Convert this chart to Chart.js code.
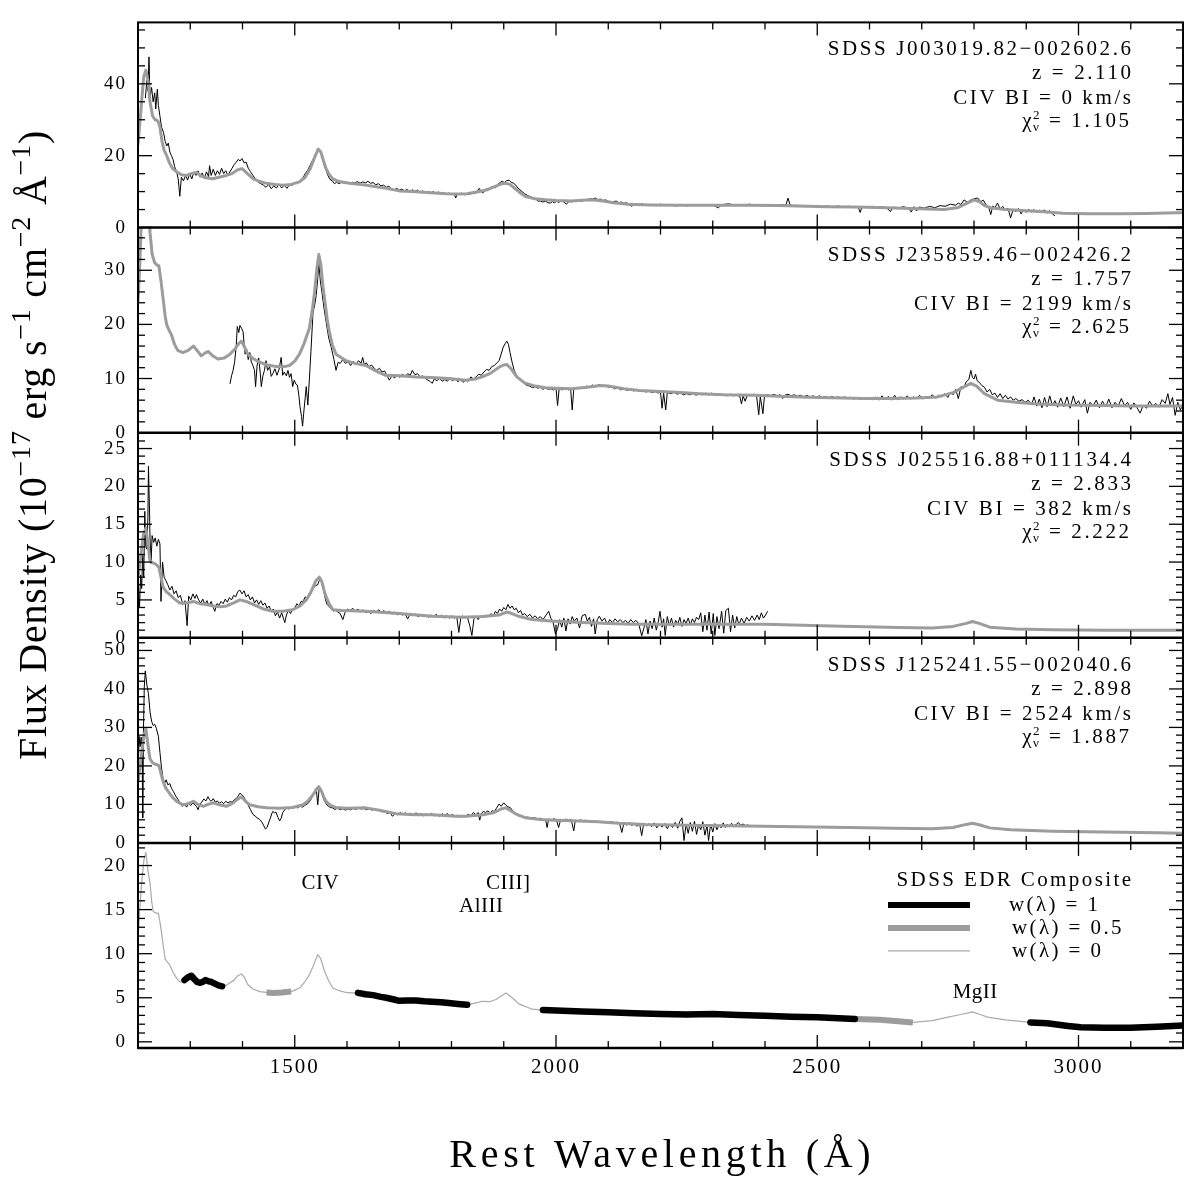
<!DOCTYPE html>
<html>
<head>
<meta charset="utf-8">
<script src="https://cdn.jsdelivr.net/npm/chart.js@4.4.1/dist/chart.umd.min.js"></script>
<style>
  html, body { margin: 0; padding: 0; background: #fff; }
  canvas { display: block; }
</style>
</head>
<body>
<canvas id="spectra" width="1184" height="1177"></canvas>
<script>
// Rest wavelength (A) / flux density (1e-17 erg/s/cm2/A) pairs

// SDSS J003019.82-002602.6
const obs1 = [[1214,36],[1217,41],[1219,38],[1221,47.5],[1223,36],[1226,39],[1229,35],[1232,37.5],[1234,33],[1237,38.5],[1239,34],[1242,31],[1245,28],[1249,26.4],[1252,24],[1255,22.7],[1258,23.5],[1261,21],[1264,20],[1267,19],[1270,17],[1274,15.5],[1277,13.5],[1280,8.7],[1283,14],[1287,13],[1291,14.5],[1295,13.2],[1299,15],[1303,13.5],[1307,15.5],[1311,14.5],[1315,15.8],[1319,14],[1323,15.2],[1327,13.6],[1331,15.5],[1335,14.2],[1337,17.2],[1340,14.5],[1344,16.2],[1348,14.5],[1352,15.8],[1356,14.8],[1360,16.5],[1364,15],[1368,15.8],[1372,14.6],[1376,15.5],[1380,16.5],[1384,17.5],[1388,18.2],[1392,19],[1395,18.5],[1399,19.2],[1403,18],[1407,18.2],[1411,16.5],[1415,15.6],[1420,14.5],[1425,13.5],[1430,12.6],[1435,12.2],[1440,11.8],[1445,11.2],[1450,12],[1455,10.8],[1460,11.6],[1465,11],[1470,12],[1475,11],[1480,11.8],[1485,10.9],[1490,11.9],[1496,11.8],[1500,12.5],[1505,12.2],[1510,13.2],[1515,13.6],[1520,15],[1525,16],[1530,17.5],[1535,19],[1540,20.5],[1545,22],[1549,21.5],[1553,19],[1557,17],[1561,15.5],[1565,14],[1569,13.2],[1572,13],[1576,12.2],[1580,12.6],[1585,12.2],[1590,12.7],[1595,12.3],[1600,12.5],[1605,12.2],[1610,12.6],[1615,12.4],[1620,12.8],[1625,12.3],[1630,12.7],[1636,12.4],[1640,12.9],[1645,12.3],[1650,12.5],[1655,11.9],[1660,12.2],[1665,11.6],[1670,11.8],[1675,11.2],[1680,11.5],[1685,10.8],[1690,10.4],[1695,10.9],[1700,10.4],[1705,10.7],[1710,10.2],[1715,10.6],[1720,10],[1725,10.5],[1730,10.1],[1735,10.4],[1740,9.8],[1745,10.2],[1750,9.7],[1755,10.1],[1760,9.6],[1765,10],[1770,9.5],[1775,9.9],[1780,9.4],[1785,9.7],[1790,9.3],[1795,9.6],[1800,9.2],[1805,9.5],[1808,8.2],[1811,9.4],[1815,9.3],[1820,9.6],[1825,9.1],[1830,9.5],[1835,9.2],[1840,9.7],[1845,9.4],[1850,10.3],[1853,10.9],[1857,10],[1860,9.6],[1864,10.5],[1868,10.8],[1872,10.5],[1876,11.3],[1880,11.5],[1884,11],[1888,12],[1892,12.4],[1897,12.9],[1901,12.5],[1905,13],[1910,13.2],[1914,12.6],[1918,12.4],[1923,11.8],[1927,11],[1931,10.5],[1935,10],[1940,9.4],[1945,9],[1950,8.6],[1954,8.4],[1958,8],[1962,7.8],[1966,7.3],[1970,7.4],[1975,7.1],[1980,7.3],[1985,6.9],[1989,6.8],[1993,7.2],[1997,6.9],[2001,7.3],[2005,7],[2010,7.4],[2015,7.1],[2020,6.5],[2025,7.3],[2030,7.1],[2035,7.5],[2040,7.2],[2045,7.5],[2050,7.3],[2055,7.7],[2060,7.8],[2065,8],[2070,7.9],[2075,8.2],[2080,7.8],[2085,7.9],[2090,7.5],[2095,7.7],[2100,7.3],[2110,7.1],[2115,7.4],[2120,6.9],[2125,7.1],[2130,6.7],[2135,6.9],[2140,6.4],[2145,5.9],[2150,6.5],[2160,6.3],[2165,6.6],[2170,6.2],[2180,6.4],[2190,6.1],[2200,6.5],[2210,6.1],[2220,6.3],[2230,6],[2240,6.4],[2250,6],[2260,6.3],[2270,6.1],[2280,6.4],[2290,6.2],[2300,6.3],[2306,5.8],[2311,5.5],[2316,6.2],[2320,6.4],[2330,6.6],[2340,6.3],[2350,6.4],[2360,6.2],[2370,6.5],[2380,6.2],[2390,6.3],[2400,6.1],[2410,6.3],[2420,6],[2430,6.4],[2440,6.2],[2444,8.2],[2448,6.3],[2455,6.1],[2460,6.2],[2470,5.9],[2480,6.1],[2490,5.8],[2500,6.1],[2510,5.8],[2520,6],[2530,5.7],[2540,6],[2550,5.7],[2560,5.9],[2570,5.6],[2578,5.9],[2582,4.2],[2586,5.8],[2595,5.6],[2605,5.9],[2615,5.5],[2625,5.8],[2635,5.2],[2640,4.4],[2645,5.7],[2655,5.4],[2665,5.8],[2675,5.3],[2680,4.3],[2685,5.8],[2690,4.6],[2695,5.7],[2705,5.4],[2715,5.9],[2725,5.5],[2735,6.1],[2745,5.9],[2755,6.5],[2765,6.2],[2770,6.8],[2775,6.4],[2781,7.7],[2787,7],[2793,7.6],[2800,8],[2807,8.2],[2813,7.2],[2818,7.6],[2823,6.3],[2828,5.8],[2832,3.6],[2836,6],[2840,5.5],[2845,6.8],[2850,5.2],[2855,5.9],[2860,4.8],[2865,5.4],[2870,2.7],[2875,5],[2880,4.4],[2885,5.3],[2890,3.8],[2895,4.9],[2900,4.2],[2905,5.1],[2910,4.3],[2915,5],[2920,4.2],[2925,4.8],[2930,4.4],[2935,4.9],[2940,4],[2945,4.7],[2950,3.8],[2955,3.2]];
const model1 = [[1200,23],[1204,30],[1208,37],[1211,42],[1215,43.8],[1219,41],[1223,35],[1228,31],[1233,30],[1238,29.7],[1242,28],[1246,24],[1250,21.5],[1255,20],[1260,18],[1266,16.5],[1274,15.5],[1283,14.7],[1293,14.5],[1302,15],[1312,15.3],[1322,14.3],[1333,13.8],[1343,13.6],[1355,14],[1369,14.5],[1380,15],[1390,16],[1399,16.4],[1408,15.2],[1420,13.6],[1433,12.8],[1446,12.3],[1462,12],[1477,11.8],[1493,12],[1509,12.7],[1520,14],[1530,16.5],[1538,19.5],[1545,21.8],[1550,21],[1555,18.6],[1560,16.4],[1566,14.8],[1572,13.6],[1585,12.8],[1605,12.3],[1636,11.8],[1668,11.1],[1700,10.2],[1725,10],[1760,9.7],[1790,9.4],[1808,9.3],[1830,9.4],[1853,10],[1870,10.6],[1885,11.5],[1897,12.2],[1904,12.3],[1912,12],[1922,10.8],[1932,9.6],[1942,8.6],[1960,8],[1980,7.7],[2000,7.5],[2030,7.4],[2050,7.6],[2069,7.7],[2090,7.4],[2110,6.9],[2139,6.5],[2180,6.3],[2234,6.2],[2300,6.2],[2362,6.2],[2425,6.1],[2463,6],[2520,5.8],[2570,5.7],[2616,5.6],[2680,5.3],[2743,5],[2770,5.6],[2790,7],[2800,7.7],[2810,7.2],[2820,6.1],[2832,5.5],[2860,5],[2900,4.7],[2934,4.4],[2970,4],[3017,3.8],[3080,3.8],[3130,3.9],[3189,4.1],[3200,4.1]];

// SDSS J235859.46-002426.2
const obs2 = [[1376,9],[1379,10.5],[1382,11.5],[1385,13.1],[1388,16],[1390,19.6],[1393,18.5],[1395,19.8],[1398,19.3],[1401,18.7],[1403,16.5],[1405,14.5],[1408,15.4],[1411,13.5],[1414,14.8],[1417,13],[1420,12.4],[1423,11.5],[1425,8.5],[1428,12.5],[1431,13.8],[1434,11],[1436,8.5],[1439,10.5],[1442,11.5],[1445,13.3],[1448,11.5],[1452,12.2],[1455,10.4],[1458,10.9],[1462,11.8],[1466,10.6],[1470,11.7],[1474,13.9],[1477,10.6],[1480,11.2],[1484,10.5],[1487,11.5],[1490,10.2],[1493,10.9],[1496,8.5],[1499,9.7],[1502,9],[1505,8.8],[1508,6.8],[1510,4.8],[1513,3],[1515,1.2],[1517,3.5],[1520,6.5],[1522,8.5],[1525,5.1],[1528,9.9],[1531,15],[1535,22.3],[1538,23.5],[1541,25.3],[1544,28.5],[1546,31.4],[1549,28],[1552,26],[1556,23],[1560,20.5],[1565,17.5],[1570,15.7],[1575,13.5],[1579,11.5],[1583,13],[1587,12.8],[1592,13.5],[1597,12.8],[1602,13.1],[1607,12.4],[1612,13.2],[1617,12.5],[1622,13.3],[1627,12.8],[1630,13.9],[1633,12.6],[1637,12.9],[1642,12.2],[1647,12.5],[1652,11.9],[1657,11.5],[1662,11.9],[1667,11.2],[1672,11.4],[1676,10.6],[1681,9.7],[1686,10.5],[1691,10.1],[1696,10.7],[1701,10.2],[1706,10.8],[1711,10.4],[1716,10.9],[1721,10.6],[1725,11.5],[1730,10.7],[1735,10.9],[1740,10.3],[1745,10.5],[1750,10],[1755,9.7],[1760,9.4],[1763,9.1],[1767,9.9],[1772,9.6],[1777,10],[1782,9.5],[1787,9.8],[1792,9.5],[1797,10],[1802,9.6],[1807,9.9],[1812,9.4],[1817,9.8],[1822,9.3],[1827,9.7],[1832,9.5],[1837,10.3],[1842,9.9],[1847,10.3],[1852,10.8],[1857,10.6],[1862,11.2],[1867,11.7],[1872,11.5],[1877,12.2],[1882,12.4],[1887,12.9],[1891,13.3],[1895,14.5],[1899,15.8],[1903,16.5],[1906,16.9],[1909,16.3],[1912,14.8],[1916,13],[1920,11.5],[1925,10.5],[1930,9.8],[1935,9.5],[1940,9],[1945,8.7],[1950,8.6],[1955,8.3],[1960,8.5],[1965,8.2],[1970,8.4],[1975,8],[1980,8.3],[1985,8],[1990,8.1],[1995,7.9],[2000,8.2],[2003,5],[2006,8.1],[2012,7.9],[2018,8.3],[2024,7.9],[2028,8.1],[2031,4.2],[2034,8],[2040,8.2],[2046,8.4],[2052,8.2],[2058,8.6],[2064,8.4],[2070,8.8],[2076,8.5],[2082,8.9],[2088,8.6],[2094,8.7],[2100,8.4],[2106,8.5],[2112,8.1],[2118,8.3],[2124,7.9],[2130,8.1],[2136,7.8],[2142,8],[2148,7.7],[2154,7.9],[2160,7.6],[2166,7.8],[2172,7.5],[2178,7.7],[2184,7.4],[2190,7.6],[2196,7.3],[2200,7.5],[2203,4.5],[2206,7.3],[2210,4.2],[2213,7.4],[2220,7.2],[2226,7.5],[2232,7.1],[2238,7.3],[2244,7],[2250,7.2],[2256,7],[2262,7.3],[2268,6.9],[2274,7.2],[2280,7],[2286,7.3],[2292,7],[2298,7.3],[2304,6.9],[2310,7.2],[2316,6.9],[2322,7.1],[2328,6.8],[2334,7.1],[2340,6.8],[2346,7],[2352,6.6],[2355,5.3],[2358,6.8],[2362,5.8],[2366,6.9],[2372,6.9],[2378,7.1],[2384,6.7],[2388,3.3],[2391,6.7],[2396,3.5],[2399,6.8],[2405,7],[2411,6.8],[2417,7.1],[2423,6.8],[2429,7],[2434,6.3],[2438,6.9],[2444,7.1],[2450,6.8],[2456,7],[2462,6.7],[2468,6.9],[2474,6.6],[2480,6.9],[2486,6.6],[2492,6.8],[2498,6.5],[2504,6.8],[2510,6.5],[2516,6.7],[2522,6.4],[2528,6.7],[2534,6.4],[2540,6.6],[2546,6.3],[2552,6.6],[2558,6.3],[2564,6.5],[2570,6.2],[2576,6.5],[2582,6.2],[2588,6.4],[2594,6.3],[2600,6.5],[2606,6.1],[2612,6.6],[2618,6],[2624,6.8],[2630,6.1],[2636,6.7],[2642,6],[2648,6.9],[2654,6.1],[2660,6.6],[2666,6.2],[2672,6.8],[2678,6.2],[2684,6.6],[2690,6.3],[2696,6.9],[2702,6.2],[2708,6.7],[2714,6.3],[2720,7],[2726,6.4],[2732,6.9],[2738,6.6],[2744,7.2],[2750,6.5],[2755,7.5],[2760,7],[2765,8],[2770,6.3],[2775,8.5],[2780,8.2],[2785,9.4],[2790,9.8],[2794,11.5],[2797,10.2],[2800,9.9],[2803,10.8],[2806,9.6],[2810,9.3],[2815,8.7],[2820,8.4],[2825,7.5],[2830,8],[2835,7],[2840,7.3],[2845,6.5],[2850,7.2],[2855,6.3],[2860,6.9],[2865,6.2],[2870,6.6],[2875,6],[2880,6.3],[2886,5.8],[2892,6.1],[2898,5.6],[2904,6],[2910,5.1],[2915,6.6],[2920,4.9],[2925,6.2],[2930,4.6],[2935,6.5],[2940,4.8],[2945,6.8],[2950,5],[2955,5.9],[2960,4.7],[2966,6.4],[2972,4.8],[2978,6.6],[2984,4.5],[2990,6.8],[2995,5.2],[3000,5.9],[3005,4.7],[3012,6.1],[3017,3.6],[3022,5.6],[3028,5],[3034,6],[3040,4.6],[3046,5.8],[3052,4.8],[3058,6.2],[3064,4.6],[3070,5.6],[3076,4.9],[3082,6.3],[3088,5],[3094,5.6],[3100,4.3],[3106,5.5],[3112,4.6],[3118,3.6],[3124,5.1],[3130,4.5],[3136,5.8],[3142,4.9],[3148,5.4],[3154,4.7],[3160,6.1],[3166,5.4],[3171,7.2],[3175,5.2],[3180,6.5],[3185,3.2],[3190,5.6],[3195,4.2],[3200,5.3]];
const model2 = [[1200,24.2],[1203,30],[1206,38],[1209,46],[1213,50],[1217,46],[1221,40],[1223,37],[1227,33],[1232,31.4],[1236,31],[1240,30.8],[1244,28],[1248,24.8],[1252,21.5],[1255,19.9],[1260,18.8],[1264,18.1],[1270,16.3],[1276,15.2],[1286,14.8],[1296,15.2],[1306,16],[1313,15.2],[1321,14.2],[1328,14.7],[1334,15],[1343,14.2],[1353,13.6],[1365,13.8],[1376,14.5],[1386,15.5],[1393,16.5],[1398,16.9],[1404,15.8],[1410,14.5],[1420,13.7],[1433,13],[1448,12.5],[1465,12.2],[1480,12.2],[1490,12.4],[1500,13.2],[1509,14.5],[1518,16.5],[1528,19.3],[1534,23],[1538,26],[1542,30],[1546,32.9],[1550,31],[1554,27],[1557,24.8],[1562,21],[1566,18.7],[1572,16.2],[1579,14.5],[1590,13.8],[1598,13.3],[1615,12.8],[1636,12.4],[1655,11.4],[1674,10.6],[1700,10.5],[1732,10.3],[1760,10.2],[1795,10],[1827,9.7],[1845,9.9],[1859,10.3],[1875,11],[1891,12.1],[1900,12.5],[1906,12.6],[1914,11.8],[1925,10.3],[1940,9.2],[1960,8.6],[1980,8.3],[2000,8.2],[2030,8.1],[2060,8.4],[2085,8.7],[2100,8.6],[2130,8.1],[2160,7.8],[2200,7.6],[2240,7.4],[2273,7.2],[2320,7],[2380,6.9],[2440,6.7],[2500,6.5],[2550,6.4],[2590,6.3],[2640,6.3],[2690,6.4],[2730,6.6],[2760,7.4],[2780,8.4],[2794,9.1],[2805,8.6],[2820,7.2],[2845,6],[2880,5.6],[2920,5.3],[2972,5.1],[3050,5],[3100,4.9],[3163,4.9],[3200,4.9]];

// SDSS J025516.88+011134.4
const obs3 = [[1200,8],[1203,4.1],[1205,8.3],[1207,6.5],[1209,10.9],[1211,8],[1213,16.7],[1215,12],[1217,11.7],[1219,16],[1220,22.7],[1222,17],[1223,13.2],[1225,9.8],[1227,13.5],[1230,12.6],[1233,13.2],[1236,12.1],[1239,13],[1242,12.4],[1244,4.8],[1247,10],[1250,8],[1253,7.6],[1257,7],[1261,6.3],[1265,6.8],[1269,5.8],[1273,6.2],[1277,5.3],[1281,5.6],[1286,4.4],[1290,4.9],[1294,1.6],[1297,5.5],[1301,5],[1305,5.8],[1309,5.2],[1312,5.7],[1316,5],[1320,4.6],[1324,5.1],[1328,4.4],[1332,4.9],[1336,4.2],[1340,4.8],[1344,4],[1347,3.5],[1351,4.5],[1355,4.3],[1359,4.8],[1363,4.5],[1367,5.1],[1371,4.7],[1375,5.3],[1379,5],[1383,5.6],[1387,5.4],[1391,6.1],[1395,6.3],[1399,5.8],[1403,6.2],[1407,5.4],[1411,5.7],[1415,5],[1419,5.4],[1423,4.6],[1427,5],[1431,4.4],[1435,4.9],[1439,4.3],[1443,4.6],[1447,3.9],[1451,4.2],[1455,3.5],[1459,3.8],[1463,2.9],[1467,3.4],[1471,2.6],[1475,3.3],[1479,2.4],[1481,2],[1484,3],[1488,3.6],[1492,3.2],[1496,3.8],[1500,3.9],[1504,4.5],[1508,4.2],[1512,4.8],[1516,4.8],[1520,5.4],[1524,5.2],[1528,5.9],[1532,6.1],[1536,6.6],[1540,6.9],[1544,7],[1547,7.6],[1550,7.8],[1553,6.8],[1556,6],[1559,5],[1562,4.4],[1566,4.1],[1570,3.8],[1574,3.5],[1578,3.7],[1582,3.4],[1587,3.2],[1592,2.4],[1596,3.3],[1601,3.8],[1606,3.6],[1611,3.9],[1616,3.5],[1621,3.8],[1626,3.4],[1631,3.7],[1636,3.3],[1641,3.5],[1646,3.2],[1651,3.6],[1656,3.4],[1661,3.7],[1666,3.3],[1671,3.6],[1676,3.2],[1681,3.5],[1686,3.1],[1691,3.4],[1696,3],[1701,3.3],[1706,3],[1711,3.2],[1716,2.5],[1721,3.1],[1726,2.9],[1731,3.1],[1736,2.8],[1741,3],[1746,2.8],[1751,3],[1756,2.7],[1761,3],[1766,2.8],[1771,3.1],[1776,2.7],[1781,3],[1786,2.6],[1791,2.9],[1796,2.6],[1801,2.9],[1806,2.6],[1810,2.8],[1814,0.7],[1818,2.7],[1822,2.9],[1826,2.6],[1830,2.8],[1835,1.6],[1839,0.3],[1843,2.5],[1847,2.8],[1851,2.4],[1856,2.9],[1861,2.7],[1866,3],[1871,2.8],[1876,3.2],[1880,2.9],[1884,3.5],[1888,3.2],[1892,3.8],[1896,3.5],[1900,4],[1904,3.7],[1908,4.4],[1912,3.9],[1916,4.2],[1920,3.7],[1924,3.9],[1928,3.3],[1932,3.6],[1936,3],[1940,3.2],[1945,2.8],[1950,3.1],[1955,2.6],[1960,2.9],[1965,2.5],[1970,2.8],[1975,2.4],[1980,2.9],[1986,3.5],[1990,2.6],[1994,2.2],[1999,0.5],[2003,1.2],[2007,2.4],[2011,1.4],[2015,2.6],[2019,0.9],[2023,2.5],[2027,1.8],[2031,2.8],[2035,2.2],[2040,2.6],[2045,1.3],[2050,2.9],[2056,3.1],[2060,2.2],[2064,2.7],[2068,1.5],[2072,2.5],[2075,0.5],[2079,2.4],[2083,2.85],[2088,2.2],[2093,2.6],[2098,1.8],[2103,2.4],[2108,2],[2113,2.5],[2118,2.1],[2123,2.4],[2128,2],[2133,2.3],[2138,1.9],[2143,2.4],[2148,2],[2153,2.3],[2158,1.9],[2164,0.26],[2168,1.2],[2172,2.4],[2176,0.5],[2180,2.2],[2184,1.2],[2188,2.6],[2192,1],[2196,2.2],[2199,3.5],[2203,1.4],[2206,2.5],[2209,0.3],[2213,2.8],[2217,1.6],[2221,2.6],[2225,1.4],[2229,2.3],[2233,1.8],[2237,2.7],[2241,1.5],[2245,2.4],[2249,1.9],[2253,2.6],[2257,1.7],[2261,2.5],[2265,2],[2269,2.7],[2273,2.4],[2277,3.3],[2281,0.8],[2285,3],[2289,1],[2293,3.4],[2297,0.5],[2301,3.2],[2304,0.3],[2308,2.8],[2312,1.2],[2317,3.5],[2321,0.6],[2325,3.6],[2330,3.9],[2334,0.8],[2338,3],[2342,1.3],[2346,2.8],[2350,1.7],[2355,2.6],[2360,1.9],[2365,2.7],[2370,2.2],[2375,2.9],[2380,2.3],[2385,3],[2389,2.4],[2393,3.3],[2397,2.6],[2401,3],[2405,3.5]];
const model3 = [[1200,8],[1205,10.5],[1210,13.5],[1215,14.5],[1219,12.5],[1223,10.2],[1228,9.9],[1232,9.8],[1236,9.6],[1240,9.3],[1244,8],[1248,6.7],[1254,6.1],[1261,5.7],[1270,5.1],[1280,4.6],[1293,4.6],[1306,4.8],[1318,4.5],[1331,4.4],[1344,4.2],[1357,4.1],[1370,4.2],[1383,4.6],[1395,5],[1407,4.8],[1420,4.4],[1440,3.8],[1458,3.5],[1478,3.5],[1496,3.7],[1510,4.2],[1522,5],[1530,5.9],[1535,6.7],[1541,7.6],[1547,8],[1552,7.4],[1556,6.3],[1560,5.4],[1566,4.5],[1573,3.7],[1590,3.6],[1636,3.5],[1700,3.2],[1763,2.85],[1820,2.7],[1860,2.8],[1891,3],[1905,3.4],[1912,3.3],[1930,2.8],[1954,2.4],[1990,2.2],[2050,2],[2100,1.9],[2145,1.8],[2250,1.8],[2400,1.8],[2527,1.55],[2654,1.35],[2720,1.3],[2760,1.5],[2785,1.9],[2797,2.15],[2810,1.9],[2830,1.4],[2880,1.15],[2950,1.05],[3050,1],[3200,1]];

// SDSS J125241.55-002040.6
const obs4 = [[1200,15.9],[1202,27.7],[1204,25],[1206,27.5],[1208,24],[1209,6.5],[1210,26],[1212,40.5],[1214,44.7],[1217,41],[1220,38.8],[1223,34],[1226,31.6],[1229,30.5],[1232,30.8],[1235,29.8],[1239,27.7],[1242,23.5],[1245,19.5],[1248,16.7],[1251,15.5],[1254,16.4],[1257,15.1],[1261,15.4],[1264,14.2],[1268,13.3],[1272,12.2],[1277,11.2],[1281,10.2],[1285,9.5],[1289,10.1],[1293,9.3],[1297,10.2],[1301,9.7],[1305,10.4],[1309,9.8],[1312,9.5],[1315,8.6],[1318,9.9],[1322,10.6],[1326,11.4],[1330,10.9],[1334,12],[1337,11.2],[1340,10.8],[1344,11.5],[1348,10.6],[1352,10.9],[1356,10.3],[1360,10.7],[1364,10.2],[1368,10.8],[1372,10.4],[1376,10.7],[1380,10.6],[1384,11.2],[1388,11.5],[1392,12.2],[1395,12.9],[1398,12.6],[1402,12.1],[1407,10.8],[1411,9.8],[1415,8.7],[1420,7.4],[1424,7],[1428,6.5],[1433,6.1],[1437,5.4],[1441,4.4],[1444,3.6],[1447,4],[1450,5.2],[1453,6.3],[1456,7.6],[1458,8.2],[1461,7.8],[1464,8],[1468,6.6],[1471,5.7],[1474,6.4],[1477,7.9],[1481,8.6],[1484,9.1],[1488,8.8],[1492,9.2],[1496,9],[1500,9.4],[1505,9.1],[1510,9.5],[1515,9.3],[1520,9.8],[1525,10.2],[1530,11],[1535,12.5],[1539,13.5],[1541,14.2],[1544,9.9],[1547,14.6],[1550,13.8],[1553,12.2],[1557,10.8],[1562,9.8],[1567,9.3],[1572,9.1],[1577,8.7],[1582,9],[1587,8.6],[1592,8.9],[1597,8.5],[1602,8.8],[1607,8.6],[1612,9],[1617,8.7],[1622,9.1],[1627,8.8],[1632,9],[1637,8.6],[1642,8.9],[1647,8.5],[1652,8.8],[1657,8.4],[1662,8.7],[1667,8],[1672,8.2],[1677,7.6],[1682,7.9],[1687,6.9],[1692,7.6],[1697,7.3],[1702,7.9],[1707,7.4],[1712,7.8],[1717,7.3],[1722,7.7],[1727,7.2],[1732,7.8],[1737,7.3],[1742,7.6],[1747,7],[1752,7.5],[1757,7.1],[1762,7.7],[1767,7],[1772,7.4],[1777,6.9],[1782,7.6],[1787,7.2],[1792,7.6],[1797,7],[1802,7.4],[1807,6.8],[1812,7.2],[1817,6.7],[1822,7.1],[1827,6.8],[1832,7.5],[1837,7],[1842,7.9],[1847,7.3],[1851,7.9],[1854,5.9],[1857,7.6],[1861,8.2],[1865,7.9],[1870,8.3],[1874,7.7],[1878,8.4],[1882,8.1],[1886,9],[1891,10.1],[1895,9.5],[1900,10.4],[1904,9.8],[1908,9.4],[1913,9.1],[1918,8.2],[1924,7.5],[1929,6.9],[1935,7],[1940,6.5],[1946,6.7],[1952,6.3],[1958,6.6],[1964,6.2],[1970,6.4],[1976,6],[1980,6.1],[1983,4],[1986,6.2],[1991,5.8],[1996,6.3],[2001,5.9],[2005,4],[2009,6.1],[2014,5.7],[2019,6.2],[2024,5.8],[2029,6.1],[2034,3.1],[2037,5.9],[2042,5.5],[2047,6],[2052,5.6],[2057,5.9],[2062,5.5],[2067,5.8],[2072,5.3],[2077,5.7],[2082,5.3],[2087,5.6],[2092,5.2],[2097,5.5],[2102,5.1],[2107,5.5],[2112,5.1],[2117,5.4],[2122,4.9],[2126,2.7],[2130,5.2],[2135,4.6],[2140,5.3],[2145,4.5],[2150,5.1],[2155,4.3],[2160,5],[2164,1.9],[2168,5.1],[2173,4.4],[2178,5],[2183,4.2],[2188,5.2],[2193,3.9],[2198,4.8],[2203,4.1],[2208,5],[2213,3.7],[2218,4.9],[2223,4],[2228,5.3],[2233,3.8],[2237,5.6],[2241,6.5],[2245,0.6],[2249,4.9],[2253,2.5],[2257,5.3],[2261,3],[2265,5.6],[2269,2.2],[2273,4.8],[2277,3.4],[2281,5.5],[2285,2],[2289,4.6],[2292,0.6],[2296,4.9],[2300,2.8],[2304,5],[2308,3.4],[2312,4.6],[2316,3.9],[2320,5.2],[2324,4],[2328,4.8],[2332,4.3],[2336,5.1],[2340,4.4],[2345,4.8],[2349,5.3],[2353,4.6],[2358,4.9],[2363,4.5],[2368,4.7]];
const model4 = [[1200,15.9],[1204,20],[1207,23.5],[1211,27.5],[1215,29.8],[1219,25.5],[1223,21.8],[1228,20.8],[1232,20.5],[1236,20.3],[1240,20.1],[1244,18],[1248,15.9],[1253,14.3],[1258,13.3],[1266,11.8],[1274,10.8],[1286,9.9],[1296,10.2],[1306,10.8],[1315,10],[1325,9.5],[1334,10],[1344,10.4],[1356,9.9],[1369,9.5],[1380,10.2],[1390,11.3],[1398,12],[1406,10.8],[1414,9.9],[1430,9.4],[1446,9.1],[1470,9],[1496,9.2],[1516,9.9],[1526,11],[1535,12.5],[1541,13.8],[1546,14.6],[1551,13.5],[1556,11.8],[1560,10.8],[1568,9.8],[1578,9.2],[1600,9],[1636,9.1],[1662,8.5],[1694,7.6],[1730,7.3],[1763,7.3],[1808,6.9],[1827,6.9],[1860,7.3],[1880,7.8],[1895,8.8],[1904,9.1],[1912,8.5],[1925,7.4],[1942,6.5],[1970,6.1],[2000,5.9],[2043,5.7],[2080,5.5],[2120,5.1],[2171,4.8],[2250,4.6],[2362,4.4],[2463,4.2],[2560,4],[2650,3.8],[2720,3.7],[2760,4],[2785,4.8],[2797,5.1],[2810,4.7],[2830,3.9],[2870,3.4],[2950,3],[3050,2.8],[3150,2.6],[3200,2.5]];

// SDSS EDR composite and its weight ranges
const composite = [[1200,11.7],[1204,15.5],[1207,18],[1211,20.5],[1215,21.5],[1219,19.5],[1223,18],[1226,16],[1229,14.8],[1234,14.6],[1239,14.6],[1242,13.6],[1245,12.4],[1249,10.6],[1252,9.4],[1257,9],[1261,8.7],[1267,7.9],[1274,7.2],[1280,6.8],[1286,6.8],[1289,7],[1295,7.3],[1302,7.5],[1308,7.1],[1313,6.8],[1318,6.7],[1324,6.8],[1329,7],[1334,6.9],[1340,6.8],[1347,6.6],[1354,6.4],[1361,6.3],[1368,6.4],[1376,6.7],[1384,7],[1391,7.5],[1398,7.7],[1404,7.3],[1410,6.5],[1420,6],[1433,5.7],[1446,5.6],[1460,5.55],[1475,5.6],[1493,5.7],[1501,5.9],[1509,6.1],[1518,6.7],[1528,7.6],[1536,8.7],[1544,9.9],[1550,9.4],[1557,8],[1565,6.9],[1573,6.1],[1585,5.8],[1598,5.6],[1610,5.55],[1621,5.55],[1635,5.4],[1650,5.3],[1665,5.1],[1675,5],[1690,4.8],[1700,4.65],[1715,4.7],[1732,4.7],[1748,4.6],[1763,4.55],[1780,4.5],[1795,4.4],[1812,4.3],[1830,4.2],[1845,4.4],[1859,4.6],[1872,4.55],[1885,4.8],[1895,5.2],[1904,5.55],[1912,5.2],[1920,4.8],[1929,4.3],[1942,4],[1954,3.7],[1975,3.6],[2000,3.55],[2050,3.45],[2100,3.35],[2150,3.25],[2200,3.15],[2250,3.1],[2300,3.15],[2350,3.05],[2400,2.95],[2450,2.85],[2500,2.8],[2572,2.6],[2620,2.5],[2683,2.2],[2720,2.4],[2750,2.8],[2775,3.1],[2797,3.4],[2812,3.1],[2826,2.8],[2860,2.5],[2908,2.2],[2940,2.1],[2980,1.8],[3004,1.65],[3050,1.6],[3099,1.6],[3150,1.7],[3200,1.85]];
const w1Ranges = [[1289,1361],[1621,1830],[1975,2572],[2908,3200]];
const w05Ranges = [[1446,1493],[2572,2683]];

// Labels
const objNames = ['SDSS J003019.82\u2212002602.6', 'SDSS J235859.46\u2212002426.2', 'SDSS J025516.88+011134.4', 'SDSS J125241.55\u2212002040.6'];
const redshifts = ['2.110', '1.757', '2.833', '2.898'];
const civBI = ['0', '2199', '382', '2524'];
const chi2 = ['1.105', '2.625', '2.222', '1.887'];
const lineNames = ['CIV', 'CIII]', 'AlIII', 'MgII'];
const legendLabels = ['w(\u03bb) = 1', 'w(\u03bb) = 0.5', 'w(\u03bb) = 0'];

// Axes
const xTicks = [1500, 2000, 2500, 3000];
const panelIds = ['y1', 'y2', 'y3', 'y4', 'y5'];
const yTicks = [[0, 20, 40], [0, 10, 20, 30], [0, 5, 10, 15, 20, 25], [0, 10, 20, 30, 40, 50], [0, 5, 10, 15, 20]];
const yMin = [0, 0, 0, 0, -0.7];
const yMax = [57.1, 37.9, 27.1, 53.3, 22.57];
const yMinor = [5, 2, 1, 2, 1];
const yMajor = [20, 10, 5, 10, 5];

const SERIF = "'Liberation Serif', 'DejaVu Serif', serif";
const GREY = '#9c9c9c';

const toXY = pts => pts.map(p => ({ x: p[0], y: p[1] }));
const inRange = (pts, r) => pts.filter(p => p[0] >= r[0] && p[0] <= r[1]);

function lineSet(pts, axis, color, width, order) {
    return {
        data: toXY(pts), yAxisID: axis, borderColor: color, borderWidth: width,
        pointRadius: 0, tension: 0, fill: false, order: order,
        borderJoinStyle: 'round', borderCapStyle: 'butt'
    };
}

const datasets = [
    lineSet(model1, 'y1', GREY, 3, 1), lineSet(obs1, 'y1', '#000', 1, 2),
    lineSet(model2, 'y2', GREY, 3, 1), lineSet(obs2, 'y2', '#000', 1, 2),
    lineSet(model3, 'y3', GREY, 3, 1), lineSet(obs3, 'y3', '#000', 1, 2),
    lineSet(model4, 'y4', GREY, 3, 1), lineSet(obs4, 'y4', '#000', 1, 2),
    lineSet(composite, 'y5', '#aaaaaa', 1.2, 3)
];
w05Ranges.forEach(r => datasets.push(lineSet(inRange(composite, r), 'y5', GREY, 6, 1)));
w1Ranges.forEach(r => {
    const ds = lineSet(inRange(composite, r), 'y5', '#000', 6.5, 0);
    ds.borderCapStyle = 'round';
    datasets.push(ds);
});

// Scales: x first, then the y panels bottom-up (last one ends on top of the stack)
const scales = {
    x: {
        type: 'linear', position: 'bottom', min: 1200, max: 3200,
        grid: { display: false, drawTicks: false }, border: { display: false },
        ticks: {
            color: '#000', font: { family: SERIF, size: 21 }, padding: 7,
            autoSkip: false, maxRotation: 0, callback: v => String(v)
        },
        afterBuildTicks: s => { s.ticks = xTicks.map(v => ({ value: v })); },
        afterFit: s => { s.height = 129; }
    }
};
for (let i = panelIds.length - 1; i >= 0; i--) {
    scales[panelIds[i]] = {
        type: 'linear', position: 'left', stack: 'panels', stackWeight: 1,
        min: yMin[i], max: yMax[i],
        grid: { display: false, drawTicks: false }, border: { display: false },
        ticks: {
            color: '#000', font: { family: SERIF, size: 19 }, padding: 11,
            autoSkip: false, callback: v => String(v)
        },
        afterBuildTicks: s => { s.ticks = yTicks[i].map(v => ({ value: v })); },
        afterFit: s => { s.width = 138; }
    };
}

function seg(ctx, x0, y0, x1, y1) {
    ctx.beginPath();
    ctx.moveTo(x0, y0);
    ctx.lineTo(x1, y1);
    ctx.stroke();
}

function text(ctx, str, x, y, size, align, spacing) {
    ctx.font = size + 'px ' + SERIF;
    ctx.letterSpacing = spacing + 'px';
    ctx.textAlign = align;
    const shift = align === 'right' ? spacing : (align === 'center' ? spacing / 2 : 0);
    ctx.fillText(str, x + shift, y);
}

// chi^2_nu = value, right aligned
function chiRow(ctx, value, right, base) {
    const sp = 2.6;
    ctx.letterSpacing = sp + 'px';
    ctx.textAlign = 'left';
    ctx.font = '21px ' + SERIF;
    const rest = ' = ' + value;
    const wRest = ctx.measureText(rest).width;
    const wChi = ctx.measureText('\u03c7').width;
    ctx.font = '13px ' + SERIF;
    const wIdx = Math.max(ctx.measureText('2').width, ctx.measureText('\u03bd').width);
    let x = right + sp - wRest - wIdx - wChi;
    ctx.font = '21px ' + SERIF;
    ctx.fillText('\u03c7', x, base);
    ctx.font = '13px ' + SERIF;
    ctx.fillText('2', x + wChi - 1, base - 8);
    ctx.fillText('\u03bd', x + wChi - 1, base + 4);
    ctx.font = '21px ' + SERIF;
    ctx.fillText(rest, x + wChi + wIdx - 2, base);
}

// y title with superscripts, fitted to a given length
function yTitle(ctx, cx, cy, length) {
    const parts = [['Flux Density (10', 0], ['\u221217', 1], [' erg s', 0], ['\u22121', 1], [' cm', 0], ['\u22122', 1], [' \u00c5', 0], ['\u22121', 1], [')', 0]];
    const fontOf = sup => (sup ? '28px ' : '40px ') + SERIF;
    ctx.letterSpacing = '0px';
    let natural = 0, count = 0;
    parts.forEach(([s, sup]) => { ctx.font = fontOf(sup); natural += ctx.measureText(s).width; count += s.length; });
    const sp = (length - natural) / count;
    ctx.save();
    ctx.translate(cx, cy);
    ctx.rotate(-Math.PI / 2);
    ctx.letterSpacing = sp + 'px';
    ctx.textAlign = 'left';
    let x = -length / 2;
    parts.forEach(([s, sup]) => {
        ctx.font = fontOf(sup);
        ctx.fillText(s, x, sup ? -16 : 0);
        x += ctx.measureText(s).width;
    });
    ctx.restore();
}

function fittedCenter(ctx, str, cx, base, size, length) {
    ctx.font = size + 'px ' + SERIF;
    ctx.letterSpacing = '0px';
    const sp = (length - ctx.measureText(str).width) / str.length;
    text(ctx, str, cx, base, size, 'center', sp);
}

const framePlugin = {
    id: 'frames',
    beforeDraw(chart) {
        chart.ctx.letterSpacing = '2px';
    },
    beforeDatasetDraw(chart, args) {
        const ys = chart.scales[args.meta.yAxisID];
        const area = chart.chartArea;
        chart.ctx.save();
        chart.ctx.beginPath();
        chart.ctx.rect(area.left, ys.top, area.right - area.left, ys.bottom - ys.top);
        chart.ctx.clip();
    },
    afterDatasetDraw(chart) {
        chart.ctx.restore();
    },
    afterDraw(chart) {
        const ctx = chart.ctx;
        const area = chart.chartArea;
        const xs = chart.scales.x;
        const L = area.left, R = area.right;
        ctx.save();
        ctx.strokeStyle = '#000';
        ctx.fillStyle = '#000';
        ctx.lineWidth = 2;
        ctx.strokeRect(L, area.top, R - L, area.bottom - area.top);

        panelIds.forEach((id, i) => {
            const s = chart.scales[id];
            ctx.lineWidth = 2.5;
            seg(ctx, L, s.bottom, R, s.bottom);
            ctx.lineWidth = 1.3;
            for (let w = 1200; w <= 3200; w += 100) {
                const x = xs.getPixelForValue(w);
                const len = w % 500 === 0 ? 13 : 7;
                seg(ctx, x, s.top, x, s.top + len);
                seg(ctx, x, s.bottom, x, s.bottom - len);
            }
            for (let v = Math.ceil(yMin[i] / yMinor[i]) * yMinor[i]; v <= yMax[i]; v += yMinor[i]) {
                const y = s.getPixelForValue(v);
                const len = v % yMajor[i] === 0 ? 14 : 7;
                seg(ctx, L, y, L + len, y);
                seg(ctx, R, y, R - len, y);
            }
            if (i < objNames.length) {
                const t = s.top;
                text(ctx, objNames[i], 1131, t + 33, 21, 'right', 2.6);
                text(ctx, 'z = ' + redshifts[i], 1131, t + 57, 21, 'right', 2.6);
                text(ctx, 'CIV BI = ' + civBI[i] + ' km/s', 1131, t + 82, 21, 'right', 2.6);
                chiRow(ctx, chi2[i], 1131, t + 105);
            }
        });

        // composite panel: line ids and legend
        const y5 = chart.scales.y5;
        const t5 = y5.top;
        text(ctx, lineNames[0], 320, t5 + 46, 21, 'center', 0.5);
        text(ctx, lineNames[1], 508, t5 + 46, 21, 'center', 0.5);
        text(ctx, lineNames[2], 481, t5 + 69, 21, 'center', 0.5);
        text(ctx, lineNames[3], 975, t5 + 155, 21, 'center', 0.5);

        text(ctx, 'SDSS EDR Composite', 1131, t5 + 43, 21, 'right', 2.4);
        ctx.lineCap = 'butt';
        ctx.lineWidth = 6;
        ctx.strokeStyle = '#000';
        seg(ctx, 888, t5 + 62, 970, t5 + 62);
        ctx.strokeStyle = GREY;
        seg(ctx, 888, t5 + 85, 970, t5 + 85);
        ctx.lineWidth = 1.2;
        ctx.strokeStyle = '#aaaaaa';
        seg(ctx, 888, t5 + 108, 970, t5 + 108);
        text(ctx, legendLabels[0], 1009, t5 + 68, 21, 'left', 2.4);
        text(ctx, legendLabels[1], 1012, t5 + 91, 21, 'left', 2.4);
        text(ctx, legendLabels[2], 1012, t5 + 114, 21, 'left', 2.4);

        // axis titles
        fittedCenter(ctx, 'Rest Wavelength (\u00c5)', 660, 1167, 40, 426);
        yTitle(ctx, 46, 445, 630);

        ctx.restore();
        ctx.letterSpacing = '0px';
    }
};

new Chart(document.getElementById('spectra'), {
    type: 'line',
    data: { datasets: datasets },
    options: {
        responsive: false,
        animation: false,
        devicePixelRatio: 1,
        events: [],
        layout: { padding: { top: 1, right: 1, left: 0, bottom: 0 } },
        plugins: { legend: { display: false }, tooltip: { enabled: false } },
        scales: scales
    },
    plugins: [framePlugin]
});
</script>
</body>
</html>
